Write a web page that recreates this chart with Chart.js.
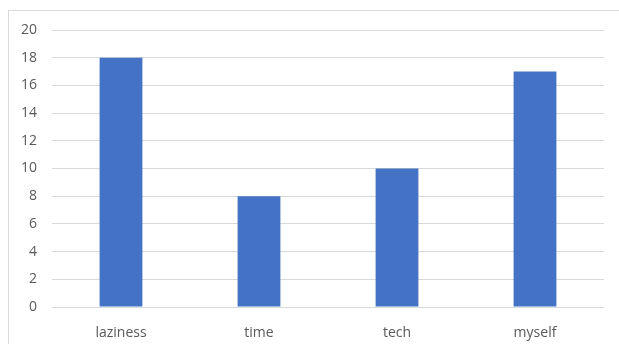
<!DOCTYPE html>
<html>
<head>
<meta charset="utf-8">
<script src="https://cdn.jsdelivr.net/npm/chart.js@4"></script>
<style>
  html, body { margin: 0; padding: 0; background: #fff; overflow: hidden; }
  #frame { position: absolute; left: 8px; top: 10px; width: 700px; height: 400px; border: 1px solid #d9d9d9; }
  #wrap { position: absolute; left: 0; top: 0; width: 619px; height: 344px; }
</style>
</head>
<body>
<div id="frame"></div>
<div id="wrap"><canvas id="chart" width="619" height="344"></canvas></div>
<script>
const categories = ['laziness', 'time', 'tech', 'myself'];
const counts = [18, 8, 10, 17];
const yTicks = [0, 2, 4, 6, 8, 10, 12, 14, 16, 18, 20];

const ctx = document.getElementById('chart').getContext('2d');
new Chart(ctx, {
    type: 'bar',
    data: {
        labels: categories,
        datasets: [{
            data: counts,
            backgroundColor: '#4472c4',
            categoryPercentage: 1,
            barPercentage: 0.31
        }]
    },
    options: {
        responsive: false,
        animation: false,
        layout: { padding: { left: 0, right: 15, top: 30, bottom: 0 } },
        plugins: {
            legend: { display: false },
            tooltip: { enabled: false }
        },
        scales: {
            x: {
                grid: { display: false },
                border: { display: false },
                ticks: { color: '#595959', font: { family: 'Open Sans', size: 14 }, padding: 10 },
                afterFit: s => { s.height = 37; }
            },
            y: {
                min: 0,
                max: 20,
                afterBuildTicks: s => { s.ticks = yTicks.map(v => ({ value: v })); },
                grid: { color: '#d9d9d9', drawTicks: false },
                border: { display: false },
                ticks: { color: '#595959', font: { family: 'Open Sans', size: 14 }, padding: 15 },
                afterFit: s => { s.width = 52; }
            }
        }
    }
});
</script>
</body>
</html>
